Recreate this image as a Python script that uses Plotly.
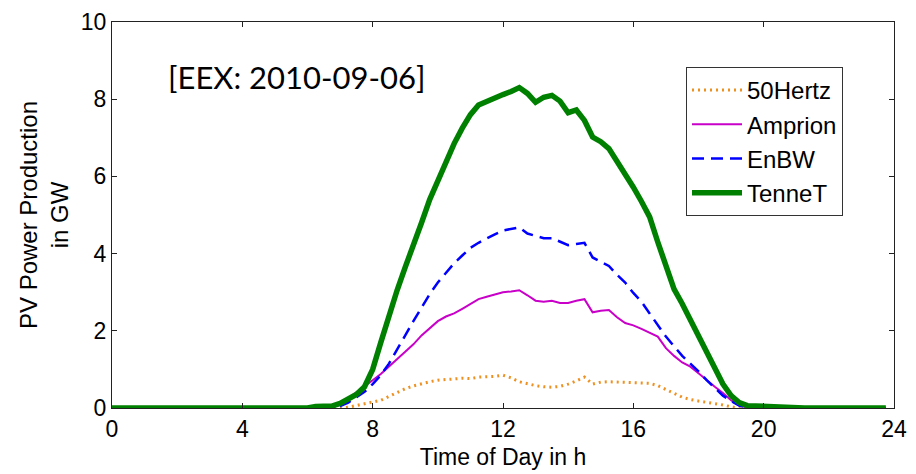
import numpy as np
import plotly.graph_objects as go

# quarter-hour time stamps (0:00 .. 23:45)
hours = np.arange(96) * 0.25

# 50Hertz: zeros 0:00-7:00, values 7:15-19:00, zeros 19:15-23:45
hertz50 = [0.0] * 29 + [
    0.02, 0.06, 0.12,
    0.16, 0.20, 0.30, 0.40,
    0.50, 0.57, 0.63, 0.68,
    0.72, 0.74, 0.76, 0.77,
    0.76, 0.80, 0.81, 0.82,
    0.85, 0.78, 0.68, 0.62,
    0.58, 0.55, 0.54, 0.56,
    0.62, 0.70, 0.80, 0.62,
    0.67, 0.68, 0.67, 0.66,
    0.65, 0.65, 0.64, 0.58,
    0.47, 0.38, 0.28, 0.22,
    0.18, 0.15, 0.12, 0.08,
    0.03,
] + [0.0] * 19

# Amprion: zeros 0:00-6:30, values 6:45-19:30, zeros after
amprion = [0.0] * 27 + [
    0.02,
    0.10, 0.25, 0.40, 0.57,
    0.72, 0.88, 1.07, 1.27,
    1.45, 1.65, 1.88, 2.07,
    2.25, 2.37, 2.45, 2.57,
    2.70, 2.82, 2.88, 2.93,
    3.00, 3.02, 3.05, 2.92,
    2.78, 2.75, 2.78, 2.72,
    2.72, 2.78, 2.82, 2.48,
    2.52, 2.54, 2.35, 2.20,
    2.14, 2.05, 1.95, 1.85,
    1.55, 1.35, 1.18, 1.07,
    0.90, 0.72, 0.55, 0.39,
    0.20, 0.06, 0.01,
] + [0.0] * 17

# EnBW: zeros 0:00-6:45, values 7:00-19:30, zeros after
enbw = [0.0] * 28 + [
    0.05, 0.14, 0.28, 0.42,
    0.62, 0.85, 1.15, 1.50,
    1.88, 2.25, 2.60, 2.95,
    3.25, 3.50, 3.75, 3.95,
    4.15, 4.28, 4.40, 4.50,
    4.60, 4.65, 4.68, 4.52,
    4.45, 4.40, 4.40, 4.30,
    4.22, 4.25, 4.28, 3.90,
    3.80, 3.68, 3.45, 3.25,
    2.98, 2.75, 2.45, 2.15,
    1.85, 1.60, 1.35, 1.15,
    0.95, 0.72, 0.52, 0.32,
    0.18, 0.06, 0.01,
] + [0.0] * 17

# TenneT: zeros 0:00-6:00, values 6:15-20:15, zeros after
tennet = [0.0] * 25 + [
    0.04, 0.05, 0.05,
    0.12, 0.22, 0.35, 0.55,
    1.00, 1.70, 2.40, 3.05,
    3.65, 4.20, 4.80, 5.40,
    5.90, 6.40, 6.85, 7.25,
    7.60, 7.85, 7.95, 8.05,
    8.12, 8.20, 8.30, 8.15,
    7.92, 8.05, 8.10, 7.95,
    7.65, 7.72, 7.45, 7.02,
    6.90, 6.72, 6.40, 6.05,
    5.72, 5.35, 4.95, 4.30,
    3.65, 3.08, 2.70, 2.28,
    1.85, 1.42, 1.00, 0.62,
    0.32, 0.14, 0.06, 0.05,
    0.05, 0.04,
] + [0.0] * 14

x_ticks = [0, 4, 8, 12, 16, 20, 24]
y_ticks = [0, 2, 4, 6, 8, 10]

FONT = "Liberation Sans, Arial, sans-serif"

fig = go.Figure()
fig.add_trace(go.Scatter(x=hours, y=hertz50, name="50Hertz", mode="lines", legendgroup="a",
                         line=dict(color="rgb(238,145,35)", width=3, dash="2px,4px")))
fig.add_trace(go.Scatter(x=hours, y=amprion, name="Amprion", mode="lines", legendgroup="b",
                         line=dict(color="rgb(200,0,200)", width=2)))
fig.add_trace(go.Scatter(x=hours, y=enbw, name="EnBW", mode="lines", legendgroup="c",
                         line=dict(color="rgb(0,0,255)", width=2.5, dash="12px,7px")))
fig.add_trace(go.Scatter(x=hours, y=tennet, name="TenneT", mode="lines", legendgroup="d",
                         line=dict(color="rgb(0,128,0)", width=5.5)))

fig.add_annotation(text="[EEX: 2010-09-06]", xref="paper", yref="paper",
                   x=(296 - 112) / 782, y=(408 - 77) / 386, xanchor="center", yanchor="middle",
                   showarrow=False,
                   font=dict(family="Lato, sans-serif", size=31, color="black"))

axis_common = dict(showline=True, linecolor="#222", linewidth=1, mirror="ticks",
                   ticks="inside", ticklen=5, tickcolor="#222", showgrid=False,
                   zeroline=False, automargin=False,
                   tickfont=dict(family=FONT, size=23, color="black"))

fig.update_xaxes(range=[0, 24], tickvals=x_ticks, ticktext=[str(v) for v in x_ticks],
                 title=dict(text="Time of Day in h", font=dict(family=FONT, size=23, color="black"),
                            standoff=8),
                 **axis_common)
fig.update_yaxes(range=[0, 10], tickvals=y_ticks, ticktext=[str(v) for v in y_ticks],
                 title=dict(text="PV Power Production<br>in GW",
                            font=dict(family=FONT, size=24, color="black"), standoff=5),
                 **axis_common)

fig.update_layout(
    width=916, height=474,
    margin=dict(l=112, r=22, t=22, b=66),
    paper_bgcolor="white", plot_bgcolor="white",
    showlegend=True,
    legend=dict(x=(686 - 112) / 782, y=(408 - 67) / 386, xanchor="left", yanchor="top",
                bgcolor="white", bordercolor="#333", borderwidth=1,
                font=dict(family=FONT, size=24, color="black"),
                itemwidth=50, tracegroupgap=3, traceorder="normal"),
)

fig.write_html("out.html", config={"displayModeBar": False},
               post_script="document.body.style.margin='0px';document.body.style.overflow='hidden';")
